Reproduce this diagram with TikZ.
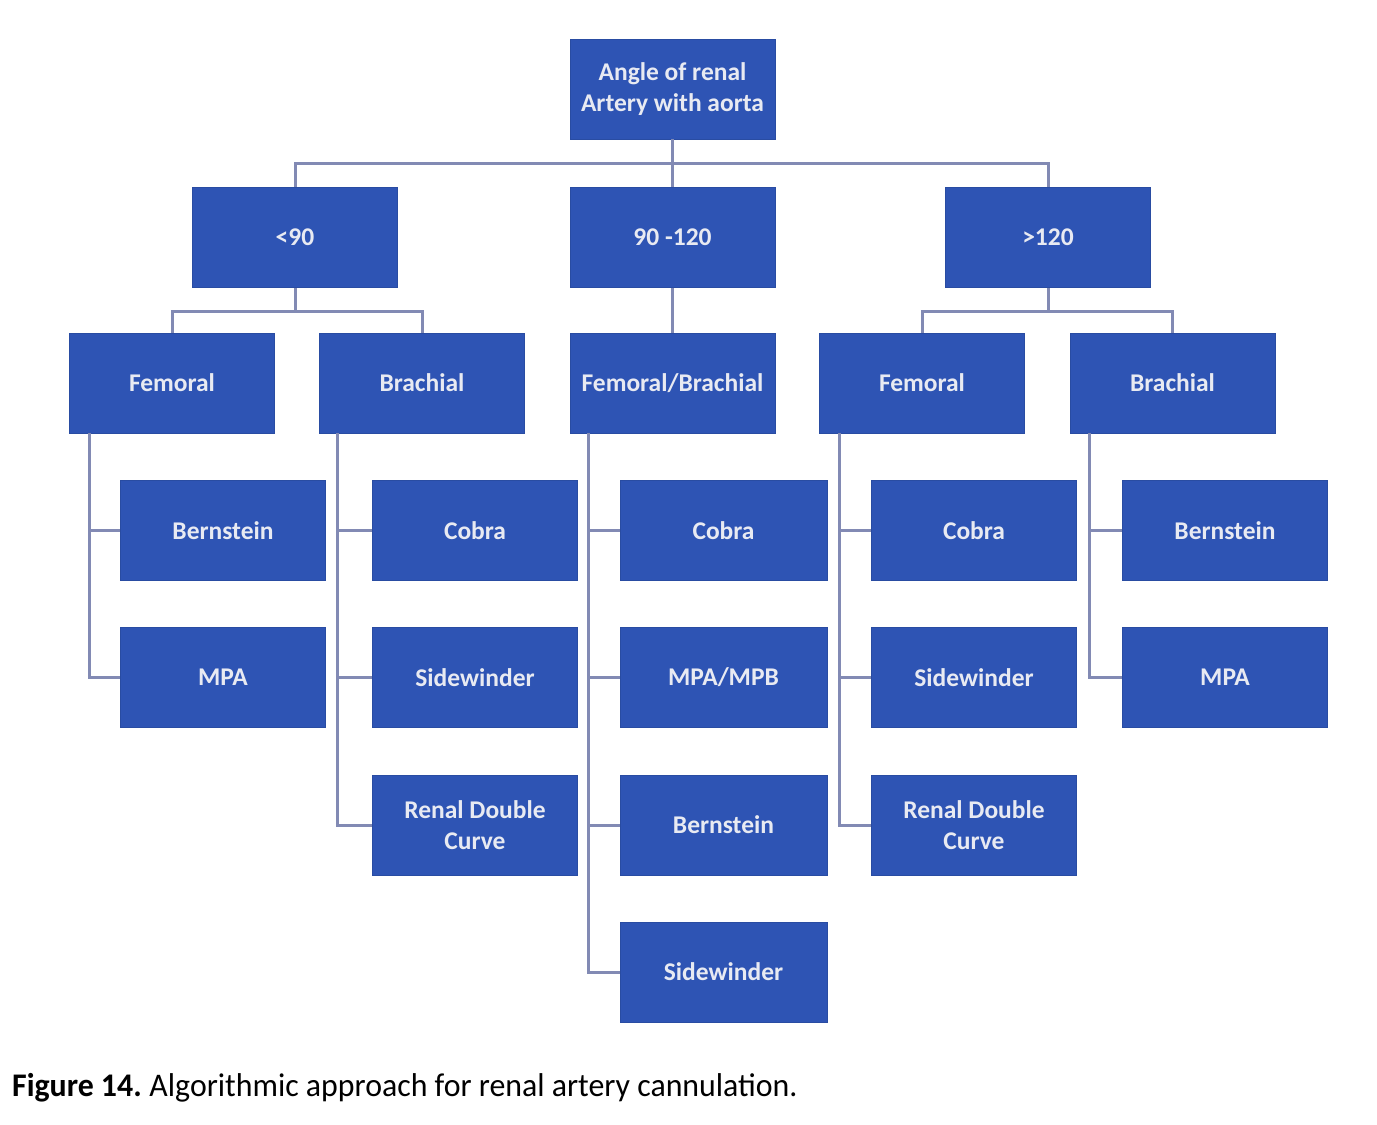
\documentclass[tikz,border=0pt]{standalone}
\usepackage{fontspec}
\setmainfont{Carlito}
\definecolor{boxblue}{RGB}{46,84,180}
\definecolor{linegray}{RGB}{130,138,180}
\definecolor{boxtext}{RGB}{232,234,242}
\begin{document}
\begin{tikzpicture}[x=1pt,y=-1pt,
  box/.style={fill=boxblue, draw=boxblue!90!black, line width=0.8pt, minimum width=205pt, minimum height=100pt,
    inner sep=0pt, text=boxtext, font=\fontsize{25.5}{31}\selectfont\bfseries, align=center},
  wbox/.style={box, minimum width=207pt},
  conn/.style={draw=linegray, line width=3pt}]
\useasboundingbox[fill=white] (0,0) rectangle (1377,1125);
% level 1
\node[box] (top) at (672.5,89) {Angle of renal\\Artery with aorta};
% level 2
\node[box] (lt) at (295,237.5) {<90};
\node[box] (md) at (672.5,237.5) {90 -120};
\node[box] (gt) at (1048,237.5) {>120};
% level 3
\node[box] (f1) at (172,383) {Femoral};
\node[box] (b1) at (422,383) {Brachial};
\node[box] (fb) at (672.5,383) {Femoral/Brachial};
\node[box] (f2) at (922,383) {Femoral};
\node[box] (b2) at (1172.5,383) {Brachial};
% level 4
\node[box] (a1) at (223,530.5) {Bernstein};
\node[box] (a2) at (223,677.5) {MPA};
\node[box] (c1) at (475,530.5) {Cobra};
\node[box] (c2) at (475,677.5) {Sidewinder};
\node[box] (c3) at (475,825) {Renal Double\\Curve};
\node[wbox] (m1) at (723.5,530.5) {Cobra};
\node[wbox] (m2) at (723.5,677.5) {MPA/MPB};
\node[wbox] (m3) at (723.5,825) {Bernstein};
\node[wbox] (m4) at (723.5,972) {Sidewinder};
\node[box] (d1) at (974,530.5) {Cobra};
\node[box] (d2) at (974,677.5) {Sidewinder};
\node[box] (d3) at (974,825) {Renal Double\\Curve};
\node[box] (e1) at (1225,530.5) {Bernstein};
\node[box] (e2) at (1225,677.5) {MPA};
% connectors
\coordinate (bus1) at (672.5,163);
\coordinate (bus2) at (295,311);
\coordinate (bus3) at (1048,311);
\draw[conn] (top.south) -- (md.north);
\draw[conn] (lt.north) |- (bus1) -| (gt.north);
\draw[conn] (md.south) -- (fb.north);
\draw[conn] (lt.south) -- (bus2);
\draw[conn] (f1.north) |- (bus2) -| (b1.north);
\draw[conn] (gt.south) -- (bus3);
\draw[conn] (f2.north) |- (bus3) -| (b2.north);
\draw[conn] ([xshift=20pt]f1.south west) |- (a1.west);
\draw[conn] ([xshift=20pt]f1.south west) |- (a2.west);
\draw[conn] ([xshift=18pt]b1.south west) |- (c1.west);
\draw[conn] ([xshift=18pt]b1.south west) |- (c2.west);
\draw[conn] ([xshift=18pt]b1.south west) |- (c3.west);
\draw[conn] ([xshift=19pt]fb.south west) |- (m1.west);
\draw[conn] ([xshift=19pt]fb.south west) |- (m2.west);
\draw[conn] ([xshift=19pt]fb.south west) |- (m3.west);
\draw[conn] ([xshift=19pt]fb.south west) |- (m4.west);
\draw[conn] ([xshift=20pt]f2.south west) |- (d1.west);
\draw[conn] ([xshift=20pt]f2.south west) |- (d2.west);
\draw[conn] ([xshift=20pt]f2.south west) |- (d3.west);
\draw[conn] ([xshift=20pt]b2.south west) |- (e1.west);
\draw[conn] ([xshift=20pt]b2.south west) |- (e2.west);
% caption
\node[anchor=base west, inner sep=0pt, font=\fontsize{33}{38}\selectfont] (cap) at (12,1096)
  {\scalebox{0.965}[1]{\textbf{Figure 14.}\hspace{-2pt} Algorithmic approach for renal artery cannulation.}};
\end{tikzpicture}
\end{document}
